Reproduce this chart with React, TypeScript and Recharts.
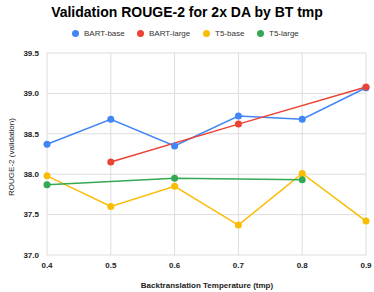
import React from "react";
import { LineChart, Line, XAxis, YAxis, CartesianGrid } from "recharts";

const temps = [0.4, 0.5, 0.6, 0.7, 0.8, 0.9];
const bartBase = [38.37, 38.68, 38.35, 38.72, 38.68, 39.07];
const bartLarge: (number | null)[] = [null, 38.15, null, 38.62, null, 39.08];
const t5Base = [37.98, 37.6, 37.85, 37.37, 38.01, 37.42];
const t5Large: (number | null)[] = [37.87, null, 37.95, null, 37.93, null];
const yTicks = [37.0, 37.5, 38.0, 38.5, 39.0, 39.5];

const seriesNames = ["BART-base", "BART-large", "T5-base", "T5-large"];
const colors = ["#4285F4", "#EA4335", "#FBBC04", "#34A853"];
const seriesKeys = ["bartBase", "bartLarge", "t5Base", "t5Large"];

const data = temps.map((t, i) => ({
  t,
  bartBase: bartBase[i],
  bartLarge: bartLarge[i],
  t5Base: t5Base[i],
  t5Large: t5Large[i],
}));

const font = "'Liberation Sans', Arial, sans-serif";
const legendX = [76, 141, 207, 261];

export default function App() {
  return (
    <div style={{ position: "absolute", left: 0, top: 0, width: 374, height: 292, background: "#fff", fontFamily: font }}>
      <div style={{ position: "absolute", left: 0, top: 3, width: 374, textAlign: "center", fontSize: 14, fontWeight: "bold", color: "#000", lineHeight: "18px" }}>
        Validation ROUGE-2 for 2x DA by BT tmp
      </div>
      {seriesNames.map((n, i) => (
        <div key={n} style={{ position: "absolute", left: legendX[i] - 4, top: 28, height: 10, display: "flex", alignItems: "center", fontSize: 8, color: "#333", whiteSpace: "nowrap" }}>
          <span style={{ display: "inline-block", width: 7, height: 7, borderRadius: 4, background: colors[i], marginRight: 5 }} />
          {n}
        </div>
      ))}
      <div style={{ position: "absolute", left: 11, top: 157, transform: "translate(-50%, -50%) rotate(-90deg)", fontSize: 8, color: "#222", whiteSpace: "nowrap" }}>
        ROUGE-2 (validation)
      </div>
      <div style={{ position: "absolute", left: 0, top: 280, width: 374, paddingLeft: 40, boxSizing: "border-box", textAlign: "center", fontSize: 8, fontWeight: "bold", color: "#222", lineHeight: "12px" }}>
        Backtranslation Temperature (tmp)
      </div>
      <div style={{ position: "absolute", left: 0, top: 0 }}>
        <LineChart width={374} height={292} data={data} margin={{ top: 53, right: 8, bottom: 7, left: 0 }}>
          <CartesianGrid stroke="#dddddd" strokeWidth={1} vertical={true} horizontal={true} />
          <XAxis
            dataKey="t"
            type="number"
            domain={[0.4, 0.9]}
            ticks={temps}
            tickFormatter={(v: number) => v.toFixed(1)}
            axisLine={false}
            tickLine={false}
            height={30}
            tickMargin={1}
            tick={{ fontSize: 8, fontWeight: "bold", fill: "#222", fontFamily: font }}
          />
          <YAxis
            type="number"
            domain={[37, 39.5]}
            ticks={yTicks}
            tickFormatter={(v: number) => v.toFixed(1)}
            axisLine={false}
            tickLine={false}
            width={47}
            tick={{ fontSize: 8, fontWeight: "bold", fill: "#222", fontFamily: font }}
          />
          {seriesKeys.map((k, i) => (
            <Line
              key={k}
              dataKey={k}
              name={seriesNames[i]}
              stroke={colors[i]}
              strokeWidth={1.5}
              connectNulls
              dot={{ r: 3.5, fill: colors[i], stroke: colors[i], strokeWidth: 0 }}
              isAnimationActive={false}
            />
          ))}
        </LineChart>
      </div>
    </div>
  );
}
